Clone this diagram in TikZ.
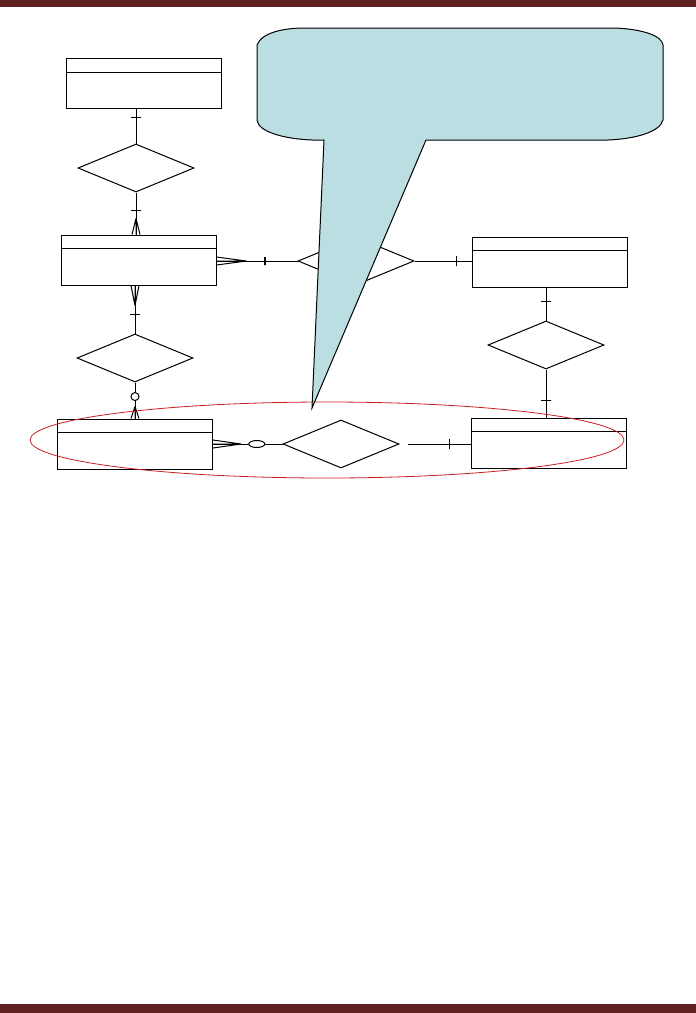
\documentclass[tikz,border=0pt]{standalone}
\usepackage{tikz}
\usetikzlibrary{arrows.meta,positioning,shapes.geometric,calc}
\definecolor{pagebar}{RGB}{97,33,33}
\definecolor{calloutblue}{RGB}{186,222,226}
\definecolor{ringred}{RGB}{200,30,35}
\tikzset{
  entity/.style={draw, minimum width=155pt, minimum height=50pt, inner sep=0pt},
  relation/.style={draw, diamond, minimum width=116pt, minimum height=48pt, inner sep=0pt},
  onebar/.style={draw, sloped, minimum width=0pt, minimum height=10pt, inner sep=0pt},
  zerocirc/.style={draw, fill=white, circle, minimum size=8pt, inner sep=0pt},
  zerooval/.style={draw, fill=white, ellipse, minimum width=16pt, minimum height=7pt, inner sep=0pt},
  pics/crowfoot/.style={code={\draw (0,-#1) -- (-4,0) (0,-#1) -- (0,0) (0,-#1) -- (4,0);}}
}

\begin{document}
\begin{tikzpicture}[x=1pt,y=-1pt,line width=1pt]
\useasboundingbox (0,0) rectangle (696,1013);
\fill[pagebar] (0,0) rectangle (696,7);
\fill[pagebar] (0,1004) rectangle (696,1013);

% entities
\node[entity] (cust) at (143.5,83.5) {};
\node[entity] (ord) at (138.5,260) {};
\node[entity] (prod) at (549.5,262) {};
\node[entity] (inv) at (135,444) {};
\node[entity] (ship) at (548.5,443) {};
\foreach \e in {cust,ord,prod,inv,ship}
  \draw ([yshift=-14pt]\e.north west) -- ([yshift=-14pt]\e.north east);

% relationships
\node[relation] (places) at (136,168) {};
\node[relation] (contains) at (356,261) {};
\node[relation] (bills) at (135,358) {};
\node[relation] (stocks) at (546,345) {};
\node[relation] (ships) at (341,444) {};

% connectors
\draw (places.north |- cust.south) -- node[onebar,pos=0.24]{} (places.north);
\draw (places.south) -- node[onebar,pos=0.42]{} (places.south |- ord.north);
\pic at (places.south |- ord.north) {crowfoot=16};
\draw (bills.north |- ord.south) -- node[onebar,pos=0.6]{} (bills.north);
\pic[rotate=180] at (bills.north |- ord.south) {crowfoot=20};
\draw (bills.south) -- node[zerocirc,pos=0.39]{} (bills.south |- inv.north);
\pic at (bills.south |- inv.north) {crowfoot=12};
\draw (ord.east |- contains.west) -- node[onebar,pos=0.6,line width=2.5pt,minimum height=8pt]{} (contains.west);
\pic[rotate=-90] at (ord.east |- contains.west) {crowfoot=30};
\draw (contains.east) -- node[onebar,pos=0.74]{} (prod.west |- contains.east);
\draw (stocks.north |- prod.south) -- node[onebar,pos=0.41]{} (stocks.north);
\draw (stocks.south) -- node[onebar,pos=0.64]{} (stocks.south |- ship.north);
\draw (inv.east) -- node[zerooval,pos=0.63]{} (ships.west);
\pic[rotate=-90] at (inv.east) {crowfoot=28};
\draw ([xshift=8pt]ships.east) -- node[onebar,pos=0.66]{} (ship.west |- ships.east);

% highlight ring
\draw[ringred, line width=0.8pt] (327,440) ellipse [x radius=297, y radius=38];

% callout
\draw[fill=calloutblue, line width=1pt]
  (257,45) .. controls (262,32) and (285,28) .. (305,28) -- (615,28)
  .. controls (640,29) and (662,35) .. (663,45) -- (663,120)
  .. controls (660,132) and (635,139) .. (608,140) -- (426,140)
  -- (312,408) -- (324,140) -- (312,140)
  .. controls (285,139) and (258,132) .. (257,120) -- cycle;
\end{tikzpicture}
\end{document}
